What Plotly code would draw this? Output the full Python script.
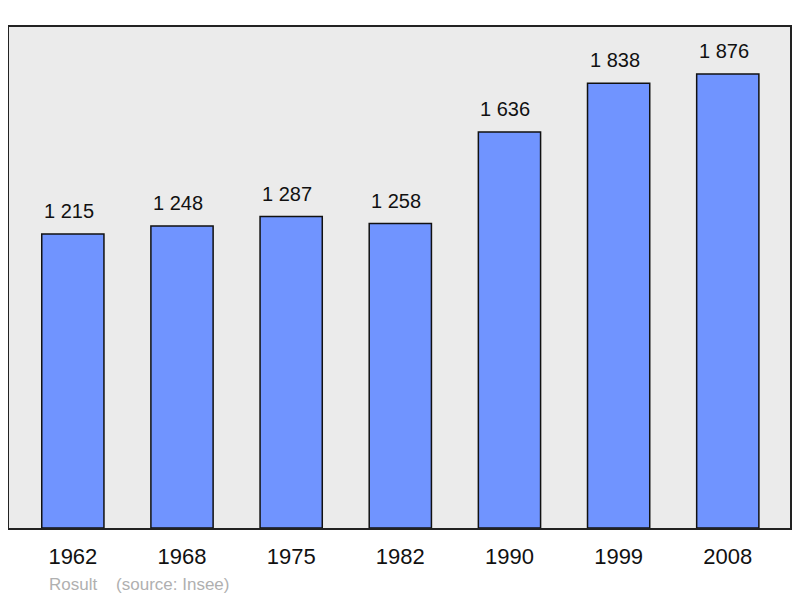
import plotly.graph_objects as go

years = ["1962", "1968", "1975", "1982", "1990", "1999", "2008"]
population = [1215, 1248, 1287, 1258, 1636, 1838, 1876]
labels = ["1 215", "1 248", "1 287", "1 258", "1 636", "1 838", "1 876"]
commune = "Rosult"
source = "(source: Insee)"

fig = go.Figure()
fig.add_trace(go.Bar(
    x=list(range(len(years))), y=population,
    width=0.57,
    marker=dict(color="#7094FF", line=dict(color="#111111", width=1.5)),
    hoverinfo="skip",
))
for i, (v, t) in enumerate(zip(population, labels)):
    fig.add_annotation(x=i, y=v, text=t, showarrow=False, yanchor="bottom",
                       yshift=10, xshift=-4, font=dict(size=20, color="#111111"))

fig.add_annotation(xref="paper", yref="paper", x=0.049, y=-0.112, xanchor="left", yanchor="middle",
                   text=commune + "&nbsp;&nbsp;&nbsp;&nbsp;" + source, showarrow=False,
                   font=dict(size=17, color="#B0B0B0"))

fig.update_layout(
    width=784, height=588,
    margin=dict(l=1, r=0, t=19, b=68),
    paper_bgcolor="white", plot_bgcolor="#EBEBEB",
    font=dict(family="Liberation Sans, Arial, sans-serif", color="#111111"),
    showlegend=False,
    xaxis=dict(range=[-0.585, 6.57], tickmode="array", tickvals=list(range(len(years))),
               ticktext=years, tickfont=dict(size=22), showgrid=False, zeroline=False,
               showline=True, mirror=True, linecolor="#222222", linewidth=2,
               ticks="outside", ticklen=8, tickcolor="rgba(0,0,0,0)"),
    yaxis=dict(range=[0, 2070], showticklabels=False, showgrid=False, zeroline=False,
               showline=True, mirror=True, linecolor="#222222", linewidth=2, ticks=""),
)
fig.write_html("out.html")
